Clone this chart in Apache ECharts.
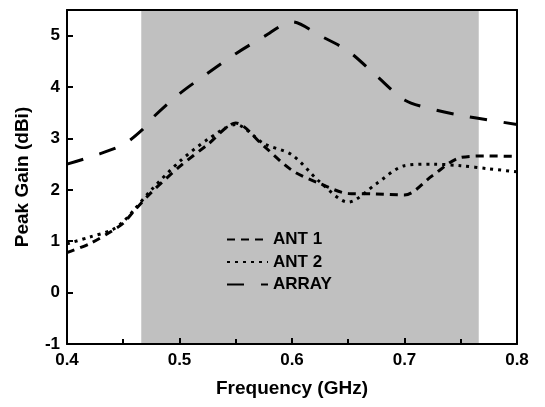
<!DOCTYPE html>
<html>
<head>
<meta charset="utf-8">
<script src="https://cdn.jsdelivr.net/npm/echarts@6/dist/echarts.min.js"></script>
<style>html,body{margin:0;padding:0;background:#fff}#c{width:545px;height:407px}</style>
</head>
<body>
<div id="c"></div>
<script>
const freqAnt1 = [0.4, 0.42, 0.44, 0.45, 0.46, 0.475, 0.5, 0.525, 0.55, 0.575, 0.6, 0.625, 0.65, 0.675, 0.7, 0.725, 0.75, 0.775, 0.8];
const ant1 = [0.78, 0.95, 1.2, 1.35, 1.6, 1.95, 2.45, 2.88, 3.3, 2.85, 2.38, 2.12, 1.93, 1.92, 1.9, 2.28, 2.63, 2.66, 2.65];
const freqAnt2 = [0.4, 0.42, 0.44, 0.45, 0.46, 0.475, 0.5, 0.525, 0.55, 0.575, 0.6, 0.625, 0.65, 0.675, 0.7, 0.725, 0.75, 0.775, 0.8];
const ant2 = [0.95, 1.08, 1.22, 1.38, 1.62, 2.0, 2.55, 2.98, 3.27, 2.9, 2.68, 2.15, 1.76, 2.12, 2.47, 2.5, 2.47, 2.41, 2.35];
const freqArray = [0.4, 0.425, 0.45, 0.467, 0.475, 0.5, 0.525, 0.55, 0.575, 0.6, 0.625, 0.65, 0.675, 0.7, 0.725, 0.75, 0.775, 0.8];
const arrayGain = [2.5, 2.67, 2.88, 3.17, 3.38, 3.87, 4.27, 4.65, 4.98, 5.27, 5.0, 4.7, 4.22, 3.75, 3.57, 3.45, 3.36, 3.27];
const shadeBand = [0.466, 0.766];
const seriesNames = ['ANT 1', 'ANT 2', 'ARRAY'];

const pairs = (xs, ys) => xs.map((x, i) => [x, ys[i]]);
const font = 'Arial, "Liberation Sans", sans-serif';

const chart = echarts.init(document.getElementById('c'), null, {renderer: 'canvas'});
chart.setOption({
  animation: false,
  backgroundColor: '#fff',
  grid: {left: 67, right: 28, top: 10, bottom: 63},
  xAxis: [{
    type: 'value', min: 0.4, max: 0.8, interval: 0.1, z: 10,
    name: 'Frequency (GHz)', nameLocation: 'middle', nameGap: 35,
    nameTextStyle: {fontFamily: font, fontWeight: 'bold', fontSize: 19, color: '#000'},
    axisLine: {show: true, onZero: false, lineStyle: {color: '#000', width: 2}},
    axisTick: {show: true, inside: true, length: 6, lineStyle: {color: '#000', width: 2}},
    minorTick: {show: true, splitNumber: 2, length: 5, lineStyle: {color: '#000', width: 2}},
    axisLabel: {margin: 8, fontFamily: font, fontWeight: 'bold', fontSize: 17, color: '#000',
      formatter: v => v.toFixed(1)},
    splitLine: {show: false}
  }, {
    type: 'value', position: 'top', min: 0.4, max: 0.8, interval: 0.1, z: 10,
    axisLine: {show: true, onZero: false, lineStyle: {color: '#000', width: 2}},
    axisTick: {show: false}, axisLabel: {show: false}, splitLine: {show: false}
  }],
  yAxis: [{
    type: 'value', min: -1, max: 5.5, interval: 1, z: 10,
    name: 'Peak Gain (dBi)', nameLocation: 'middle', nameGap: 35,
    nameTextStyle: {fontFamily: font, fontWeight: 'bold', fontSize: 19, color: '#000'},
    axisLine: {show: true, onZero: false, lineStyle: {color: '#000', width: 2}},
    axisTick: {show: true, inside: true, length: 6, lineStyle: {color: '#000', width: 2}},
    axisLabel: {margin: 7, fontFamily: font, fontWeight: 'bold', fontSize: 17, color: '#000',
      showMaxLabel: false},
    splitLine: {show: false}
  }, {
    type: 'value', position: 'right', min: -1, max: 5.5, interval: 1, z: 10,
    axisLine: {show: true, onZero: false, lineStyle: {color: '#000', width: 2}},
    axisTick: {show: false}, axisLabel: {show: false}, splitLine: {show: false}
  }],
  legend: {
    data: seriesNames.map(n => ({name: n, itemStyle: {opacity: 0}})),
    orient: 'vertical', left: 226, top: 231, padding: 0,
    itemWidth: 41, itemHeight: 14, itemGap: 5.5,
    textStyle: {fontFamily: font, fontWeight: 'bold', fontSize: 17, color: '#000'}
  },
  series: [{
    name: 'shade', type: 'line', data: [], z: 1, silent: true,
    markArea: {silent: true, z: 1, itemStyle: {color: '#c0c0c0'},
      data: [[{xAxis: shadeBand[0]}, {xAxis: shadeBand[1]}]]}
  }, {
    name: seriesNames[0], type: 'line', z: 3, smooth: 0.3, symbol: 'none',
    data: pairs(freqAnt1, ant1),
    lineStyle: {color: '#000', width: 3, type: [8, 6]},
    itemStyle: {color: '#000'}
  }, {
    name: seriesNames[1], type: 'line', z: 3, smooth: 0.3, symbol: 'none',
    data: pairs(freqAnt2, ant2),
    lineStyle: {color: '#000', width: 3, type: [3, 5]},
    itemStyle: {color: '#000'}
  }, {
    name: seriesNames[2], type: 'line', z: 3, smooth: 0.3, symbol: 'none',
    data: pairs(freqArray, arrayGain),
    lineStyle: {color: '#000', width: 3, type: [17, 17]},
    itemStyle: {color: '#000'}
  }]
});
</script>
</body>
</html>
